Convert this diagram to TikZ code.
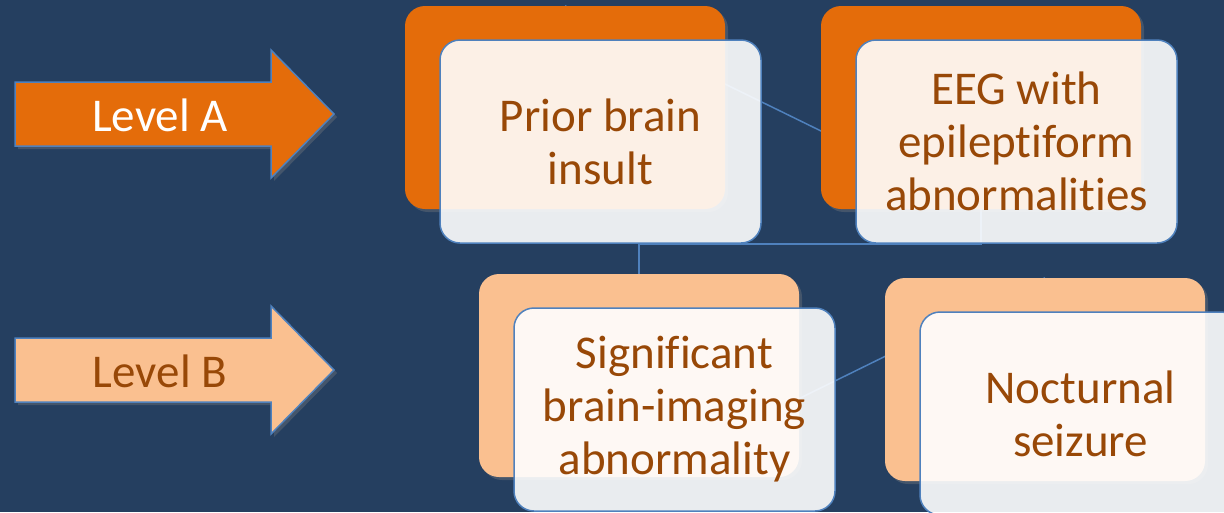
\documentclass[tikz,border=0pt]{standalone}
\usepackage{fontspec}
\setmainfont[Ligatures=NoCommon]{Carlito}
\usetikzlibrary{shadows}
\definecolor{bgc}{RGB}{37,63,96}
\definecolor{orA}{RGB}{228,108,10}
\definecolor{peB}{RGB}{250,192,144}
\definecolor{txtc}{RGB}{152,72,7}
\definecolor{lnc}{RGB}{79,129,189}
\pgfdeclarelayer{bgzero}
\pgfdeclarelayer{links}
\pgfsetlayers{bgzero,links,main}
\begin{document}
\begin{tikzpicture}[x=1pt,y=-1pt,
  backbox/.style={rounded corners=20pt, minimum width=320pt, minimum height=203pt, inner sep=0pt,
    drop shadow={opacity=0.35,shadow xshift=3pt,shadow yshift=-3pt}},
  frontbox/.style={rounded corners=20pt, minimum width=321pt, minimum height=203pt, inner sep=0pt,
    draw=lnc, line width=1.5pt, fill=white, fill opacity=0.9, text opacity=1, text=txtc,
    align=center, font=\fontsize{47}{53}\selectfont},
  link/.style={draw=lnc, line width=1.5pt},
  lvlshape/.style={draw=lnc, line width=1.5pt, line join=miter,
    drop shadow={opacity=0.35,shadow xshift=3pt,shadow yshift=-3pt}},
  lvltext/.style={font=\fontsize{47}{53}\selectfont, anchor=base, inner sep=0pt}
]
\begin{pgfonlayer}{bgzero}
\fill[bgc] (0,0) rectangle (1224,512);
\end{pgfonlayer}
\useasboundingbox (0,0) rectangle (1224,512);

% level arrows
\path[lvlshape, fill=orA] (15,82) -- (271,82) -- (271,50) -- (334,114) -- (271,178) -- (271,146) -- (15,146) -- cycle;
\node[lvltext, text=white] (la) at (160,131) {Level A};
\path[lvlshape, fill=peB] (15,338) -- (271,338) -- (271,306) -- (334,370) -- (271,434) -- (271,402) -- (15,402) -- cycle;
\node[lvltext, text=txtc] (lb) at (160,387) {Level B};

% back boxes
\node[backbox, fill=orA] (pb) at (565,107.5) {};
\node[backbox, fill=orA] (eb) at (981,107.5) {};
\node[backbox, fill=peB] (sb) at (639,375.5) {};
\node[backbox, fill=peB] (nb) at (1045,379.5) {};

% front boxes
\node[frontbox] (pf) at (600.5,141.5) {Prior brain\\insult};
\node[frontbox] (ef) at (1016.5,141.5) {EEG with\\epileptiform\\abnormalities};
\node[frontbox] (sf) at (674.5,409.5) {Significant\\brain-imaging\\abnormality};
\node[frontbox] (nf) at (1080.5,413.5) {Nocturnal\\seizure};

% connectors
\begin{pgfonlayer}{links}
\draw[link] (pb.north) -- (eb.south);
\draw[link] (sb.north) -- ++(0,-30) -| (eb.south);
\draw[link] (sb.south) -- (nb.north);
\end{pgfonlayer}
\end{tikzpicture}
\end{document}
